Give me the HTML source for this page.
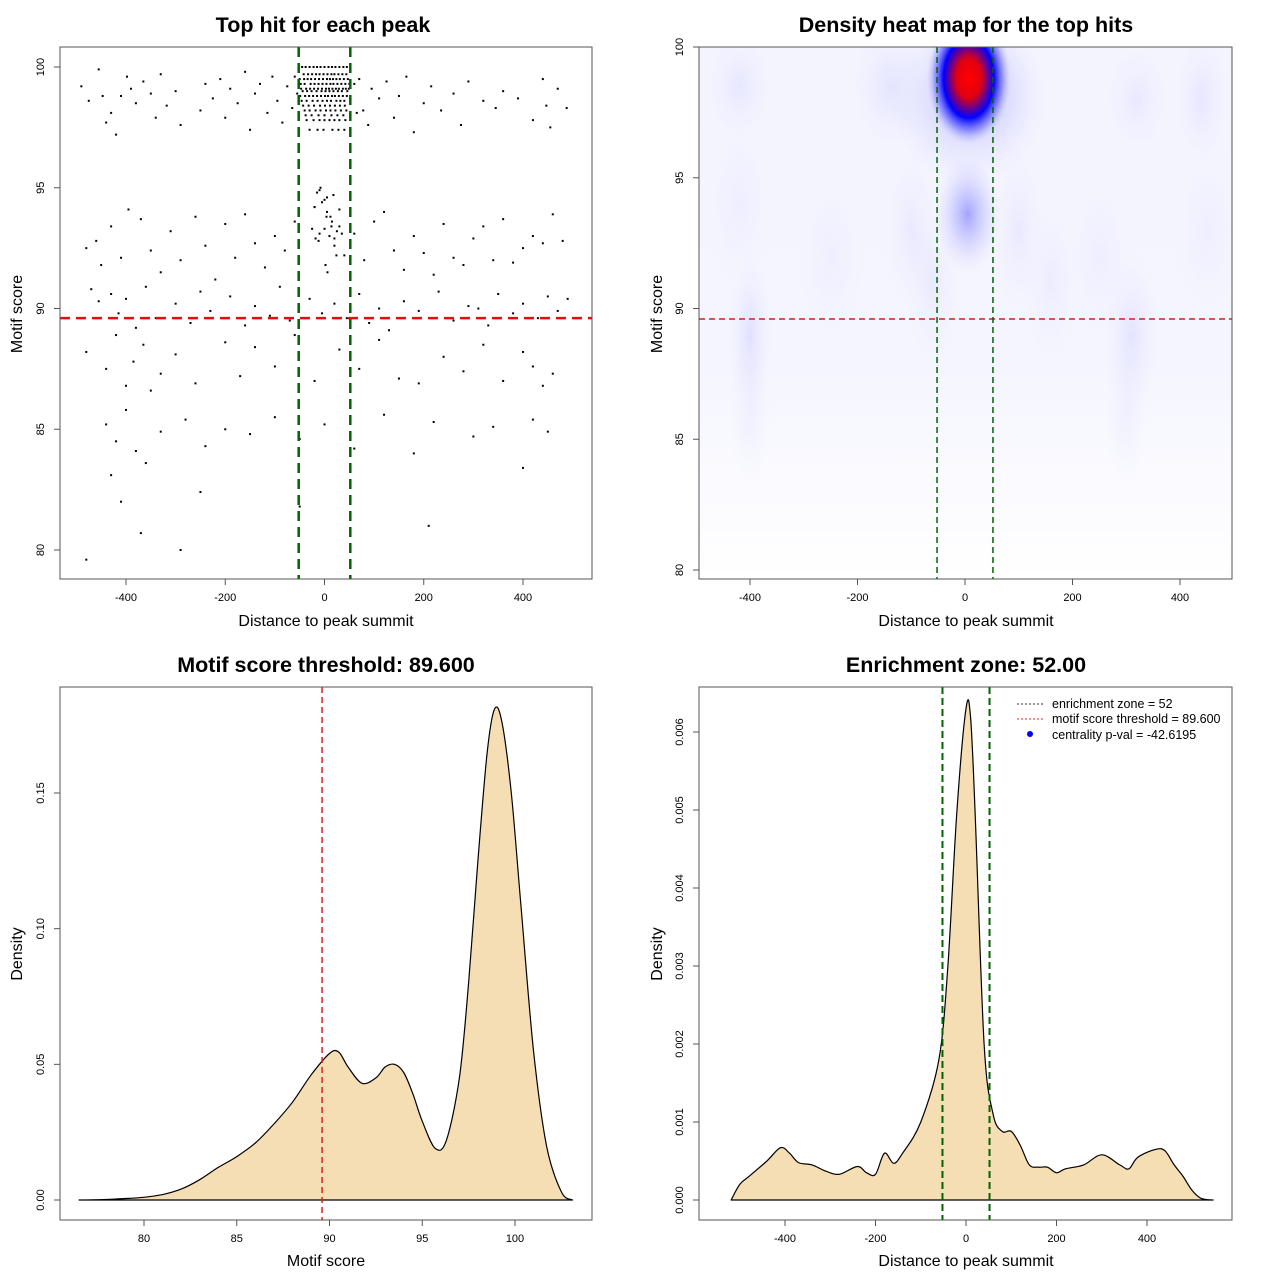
<!DOCTYPE html>
<html><head><meta charset="utf-8"><style>
html,body{margin:0;padding:0;background:#fff}
svg{display:block;font-family:"Liberation Sans",sans-serif}
</style></head><body>
<svg id="c" width="1280" height="1280" viewBox="0 0 1280 1280" xmlns="http://www.w3.org/2000/svg">
<defs>
<radialGradient id="gMain"><stop offset="0" stop-color="#ff0000"/><stop offset="0.3" stop-color="#e00010"/><stop offset="0.6" stop-color="#0000ff"/><stop offset="0.8" stop-color="#6060ff" stop-opacity="0.6"/><stop offset="1" stop-color="#c0c0ff" stop-opacity="0"/></radialGradient>
<radialGradient id="gBlue"><stop offset="0" stop-color="#8080ff" stop-opacity="1"/><stop offset="1" stop-color="#c0c0ff" stop-opacity="0"/></radialGradient>
<linearGradient id="gWash" x1="0" y1="0" x2="0" y2="1"><stop offset="0" stop-color="#f4f4ff"/><stop offset="0.6" stop-color="#f5f5ff"/><stop offset="0.85" stop-color="#fbfbff"/><stop offset="1" stop-color="#ffffff"/></linearGradient>
</defs>
</svg>
<script>
// ---------- data ----------
const scatterX = [-490,-475,-455,-447,-440,-430,-420,-410,-398,-390,-380,-365,-350,-340,-330,-318,-300,-290,-250,-240,-225,-210,-200,-190,-175,-160,-150,-140,-130,-115,-105,-95,-85,-75,-65,70,78,88,95,110,125,140,150,165,180,200,215,235,260,275,290,320,345,360,390,420,440,447,455,470,488,
 -45,-38,-30,-22,-15,-8,0,8,15,22,30,38,45,-42,-33,-25,-17,-10,-2,6,14,20,28,36,44,-48,-40,-28,-20,-12,-4,4,12,18,26,34,42,50,-44,-35,-26,-16,-6,2,10,18,27,35,46,-46,-36,-24,-14,-4,5,13,24,32,40,-40,-30,-18,-8,3,12,22,33,44,-36,-22,-10,0,10,20,30,42,-30,-14,-2,16,28,40,
 -50,-41,-34,-27,-19,-11,-3,5,11,17,24,31,39,47,-47,-37,-29,-21,-13,-5,3,9,16,23,29,37,43,49,-49,-39,-31,-23,-15,-7,1,7,15,21,29,37,45,-43,-32,-21,-9,1,11,21,31,41,-38,-26,-12,0,14,26,38,-55,-60,60,65,
 -480,-460,-450,-430,-410,-395,-370,-350,-330,-310,-290,-260,-240,-220,-200,-180,-160,-140,-120,-100,-80,-60,-20,-10,0,5,12,20,30,40,60,80,100,120,140,160,180,200,220,240,260,280,300,320,340,360,380,400,420,440,460,480,
 -15,-5,5,15,25,-10,0,10,20,-20,-8,4,14,30,-12,2,18,6,-25,35,-18,24,
 -470,-455,-430,-415,-400,-380,-360,-340,-300,-270,-250,-230,-190,-160,-140,-110,-90,-70,-30,-5,20,45,70,90,110,130,160,190,230,260,290,310,330,350,380,400,430,450,470,490,
 -480,-440,-420,-400,-385,-365,-350,-330,-300,-260,-200,-170,-140,-100,-60,-20,30,70,110,150,190,240,280,320,360,400,420,440,460,
 -440,-420,-400,-380,-360,-330,-280,-240,-200,-150,-100,-50,0,60,120,180,220,300,340,400,420,450,
 -430,-410,-370,-290,-250,-50,210,-480];
const scatterY = [99.2,98.6,99.9,98.8,97.7,98.1,97.2,98.8,99.6,99.1,98.5,99.4,98.9,97.9,99.7,98.4,99.0,97.6,98.2,99.3,98.7,99.5,97.9,99.1,98.5,99.8,97.4,98.9,99.3,98.1,99.6,98.6,97.7,99.2,98.3,99.5,98.2,97.6,99.1,98.7,99.4,97.9,98.8,99.6,97.3,98.5,99.2,98.2,98.9,97.6,99.4,98.6,98.3,99.0,98.7,97.8,99.5,98.4,97.5,99.1,98.3,
 100,100,100,100,100,100,100,100,100,100,100,100,100,99.7,99.7,99.7,99.7,99.7,99.7,99.7,99.7,99.7,99.7,99.7,99.7,99.3,99.3,99.3,99.3,99.3,99.3,99.3,99.3,99.3,99.3,99.3,99.3,99.3,99.0,99.0,99.0,99.0,99.0,99.0,99.0,99.0,99.0,99.0,99.0,98.6,98.6,98.6,98.6,98.6,98.6,98.6,98.6,98.6,98.6,98.2,98.2,98.2,98.2,98.2,98.2,98.2,98.2,98.2,97.8,97.8,97.8,97.8,97.8,97.8,97.8,97.8,97.4,97.4,97.4,97.4,97.4,97.4,
 99.5,99.5,99.5,99.5,99.5,99.5,99.5,99.5,99.5,99.5,99.5,99.5,99.5,99.5,99.1,99.1,99.1,99.1,99.1,99.1,99.1,99.1,99.1,99.1,99.1,99.1,99.1,99.1,98.8,98.8,98.8,98.8,98.8,98.8,98.8,98.8,98.8,98.8,98.8,98.8,98.8,98.4,98.4,98.4,98.4,98.4,98.4,98.4,98.4,98.4,98.0,98.0,98.0,98.0,98.0,98.0,98.0,98.9,99.6,99.3,98.1,
 92.5,92.8,91.8,93.4,92.1,94.1,93.7,92.4,91.5,93.2,92.0,93.8,92.6,91.2,93.5,92.1,93.9,92.7,91.7,93.0,92.4,93.6,94.2,93.1,93.3,94.6,93.8,92.9,93.4,92.2,93.1,92.0,93.6,94.0,92.4,91.6,93.0,92.3,91.4,93.5,92.1,91.8,92.9,93.4,92.0,93.7,91.9,92.5,93.0,92.7,93.9,92.8,
 94.8,94.4,94.0,93.6,93.2,94.9,94.5,93.0,92.6,94.2,95.0,93.8,93.4,94.1,92.8,91.8,94.7,91.5,93.3,93.1,92.9,92.2,
 90.8,90.3,90.6,89.8,90.4,89.2,90.9,89.6,90.2,89.4,90.7,89.9,90.5,89.3,90.1,89.7,90.9,89.5,90.4,89.8,90.2,89.6,90.6,89.4,90.0,89.1,90.3,89.9,90.7,89.5,90.1,90.0,89.3,90.6,89.8,90.2,89.6,90.5,89.9,90.4,
 88.2,87.5,88.9,86.8,87.8,88.5,86.6,87.3,88.1,86.9,88.6,87.2,88.4,87.6,88.9,87.0,88.3,87.5,88.7,87.1,86.9,88.0,87.4,88.5,87.0,88.2,87.6,86.8,87.3,
 85.2,84.5,85.8,84.1,83.6,84.9,85.4,84.3,85.0,84.8,85.5,84.6,85.2,84.2,85.6,84.0,85.3,84.7,85.1,83.4,85.4,84.9,
 83.1,82.0,80.7,80.0,82.4,81.8,81.0,79.6];

const densX = [76.5,78,80,81,82,83,84,85,86,87,88,89,90,90.5,91,91.75,92.5,93,93.5,94,94.5,95,95.7,96.3,97,97.5,98,98.5,98.9,99.3,99.8,100.3,101,101.7,102.5,103.1];
const densY = [0,0.0002,0.001,0.002,0.004,0.0075,0.012,0.016,0.021,0.028,0.036,0.046,0.054,0.0545,0.049,0.043,0.045,0.049,0.050,0.047,0.039,0.029,0.019,0.022,0.045,0.08,0.125,0.165,0.181,0.176,0.15,0.11,0.055,0.02,0.003,0];

const distX = [-519,-500,-480,-440,-410,-390,-370,-340,-310,-280,-240,-220,-200,-180,-160,-140,-100,-60,-40,-20,0,10,20,40,60,80,100,120,140,160,180,200,220,260,300,340,360,380,420,440,460,480,500,520,546];
const distY = [0,0.0002,0.0003,0.0005,0.00067,0.0006,0.00048,0.00045,0.00037,0.00033,0.00043,0.00035,0.00033,0.0006,0.00047,0.0006,0.001,0.0018,0.003,0.005,0.0063,0.0062,0.005,0.002,0.0011,0.00088,0.00088,0.0007,0.00045,0.00042,0.00042,0.00035,0.0004,0.00045,0.00058,0.00045,0.0004,0.00055,0.00065,0.00063,0.00045,0.0003,0.00012,0.00002,0];

// heatmap blobs: centre (dist, score), radius (dist units, score units), strength
const blobX = [-420,-400,-140,-100,-60,60,100,160,310,320,440,-420,-250,250,450,-400,300];
const blobY = [98.5,89,98.5,93,91,98.5,93,91,89,98,98,94,92,92,93,86,86];
const blobRX = [60,40,70,50,50,70,50,50,50,60,50,60,60,60,60,40,40];
const blobRY = [2,3,2.5,3,3,2.5,3,3,3,2,2.5,3,3,3,3,3,3];
const blobA = [0.12,0.18,0.14,0.1,0.1,0.12,0.1,0.08,0.15,0.1,0.12,0.06,0.06,0.06,0.06,0.07,0.07];

// ---------- helpers ----------
const svg = document.getElementById('c');
const NS = 'http://www.w3.org/2000/svg';
function mk(tag, attrs, parent){const e=document.createElementNS(NS,tag);for(const k in attrs)e.setAttribute(k,attrs[k]);(parent||svg).appendChild(e);return e;}
function txt(x,y,s,size,opts){opts=opts||{};const e=mk('text',{x:x,y:y,'font-size':size,'text-anchor':opts.anchor||'middle','font-weight':opts.bold?'bold':'normal',fill:'#000'});if(opts.rot)e.setAttribute('transform','rotate(-90 '+x+' '+y+')');e.textContent=s;return e;}
function lin(x0,x1,p0,p1){return v=>p0+(v-x0)*(p1-p0)/(x1-x0);}
function smooth(pts){let d='';for(let i=0;i<pts.length-1;i++){const p0=pts[Math.max(0,i-1)],p1=pts[i],p2=pts[i+1],p3=pts[Math.min(pts.length-1,i+2)];
 const c1=[p1[0]+(p2[0]-p0[0])/6,p1[1]+(p2[1]-p0[1])/6],c2=[p2[0]-(p3[0]-p1[0])/6,p2[1]-(p3[1]-p1[1])/6];
 d+=' C'+c1[0].toFixed(1)+','+c1[1].toFixed(1)+' '+c2[0].toFixed(1)+','+c2[1].toFixed(1)+' '+p2[0].toFixed(1)+','+p2[1].toFixed(1);}return d;}

function frame(x,y,w,h,name){const r=mk('rect',{x:x,y:y,width:w,height:h,fill:'none',stroke:'#555','stroke-width':1});

}
function xTicks(vals,sx,y,labels){vals.forEach((v,i)=>{mk('line',{x1:sx(v),x2:sx(v),y1:y,y2:y+6,stroke:'#555'});const t=txt(sx(v),y+22,labels[i],11);

});}
function yTicks(vals,sy,x,labels){vals.forEach((v,i)=>{mk('line',{x1:x,x2:x-6,y1:sy(v),y2:sy(v),stroke:'#555'});const t=txt(x-16,sy(v),labels[i],11,{rot:true});

});}

// ---------- panel 1: scatter ----------
(function(){
 const sx=lin(-400,400,126,523), sy=lin(80,100,550,67);
 const g=mk('g',{});
 
 
 for(let i=0;i<scatterX.length;i++){const p=mk('rect',{x:sx(scatterX[i])-1,y:sy(scatterY[i])-1,width:2,height:2,fill:'#000'},g);
 
 }
 mk('line',{x1:60,x2:592,y1:sy(89.6),y2:sy(89.6),stroke:'#dd1111','stroke-width':2.5,'stroke-dasharray':'10,6'});
 [-52,52].forEach(v=>mk('line',{x1:sx(v),x2:sx(v),y1:47,y2:579,stroke:'#006400','stroke-width':2.5,'stroke-dasharray':'10,6'}));
 frame(60,47,532,532,'scatter-plot-area');
 xTicks([-400,-200,0,200,400],sx,579,['-400','-200','0','200','400']);
 yTicks([80,85,90,95,100],sy,60,['80','85','90','95','100']);
 txt(323,32,'Top hit for each peak',21.5,{bold:true});
 txt(326,626,'Distance to peak summit',16);
 txt(22,314,'Motif score',16,{rot:true});
})();

// ---------- panel 2: heatmap ----------
(function(){
 const sx=lin(-400,400,750,1180), sy=lin(80,100,570,47);
 const cl=mk('clipPath',{id:'hmclip'});mk('rect',{x:699,y:47,width:533,height:532},cl);
 const g=mk('g',{'clip-path':'url(#hmclip)'});
 
 
 mk('rect',{x:699,y:47,width:533,height:532,fill:'url(#gWash)'},g);
 for(let i=0;i<blobX.length;i++){const e=mk('ellipse',{cx:sx(blobX[i]),cy:sy(blobY[i]),rx:blobRX[i]*0.5375,ry:blobRY[i]*26.15,fill:'url(#gBlue)',opacity:blobA[i]},g);
 
 }
 const b2=mk('ellipse',{cx:sx(5),cy:sy(93.6),rx:32,ry:58,fill:'url(#gBlue)',opacity:0.7},g);
 
 
 const b3=mk('ellipse',{cx:sx(5),cy:sy(98.0),rx:80,ry:85,fill:'url(#gBlue)',opacity:0.45},g);
 
 
 const b1=mk('ellipse',{cx:sx(7),cy:sy(98.8),rx:42,ry:66,fill:'url(#gMain)'},g);
 
 
 mk('line',{x1:699,x2:1232,y1:sy(89.6),y2:sy(89.6),stroke:'#cc2222','stroke-width':1.5,'stroke-dasharray':'6,4'});
 [-52,52].forEach(v=>mk('line',{x1:sx(v),x2:sx(v),y1:47,y2:579,stroke:'#006400','stroke-width':1.5,'stroke-dasharray':'6,4'}));
 frame(699,47,533,532,'heatmap-plot-area');
 xTicks([-400,-200,0,200,400],sx,579,['-400','-200','0','200','400']);
 yTicks([80,85,90,95,100],sy,699,['80','85','90','95','100']);
 txt(966,32,'Density heat map for the top hits',21.5,{bold:true});
 txt(966,626,'Distance to peak summit',16);
 txt(662,314,'Motif score',16,{rot:true});
})();

// ---------- panel 3: score density ----------
(function(){
 const sx=lin(80,100,144,515), sy=lin(0,0.15,1200,793);
 const pts=densX.map((v,i)=>[sx(v),sy(densY[i])]);
 const d='M'+pts[0][0]+','+pts[0][1]+smooth(pts)+' Z';
 const p=mk('path',{d:d,fill:'#f5deb3',stroke:'#000','stroke-width':1.2,'stroke-linejoin':'round'});
 
 
 mk('line',{x1:sx(89.6),x2:sx(89.6),y1:687,y2:1220,stroke:'#dd2222','stroke-width':1.5,'stroke-dasharray':'6,4'});
 frame(60,687,532,533,'score-density-plot-area');
 xTicks([80,85,90,95,100],sx,1220,['80','85','90','95','100']);
 yTicks([0,0.05,0.1,0.15],sy,60,['0.00','0.05','0.10','0.15']);
 txt(326,672,'Motif score threshold: 89.600',21.5,{bold:true});
 txt(326,1266,'Motif score',16);
 txt(22,954,'Density',16,{rot:true});
})();

// ---------- panel 4: distance density ----------
(function(){
 const sx=lin(-400,400,785,1147), sy=lin(0,0.006,1200,732);
 const pts=distX.map((v,i)=>[sx(v),sy(distY[i])]);
 const d='M'+pts[0][0]+','+pts[0][1]+smooth(pts)+' Z';
 const p=mk('path',{d:d,fill:'#f5deb3',stroke:'#000','stroke-width':1.2,'stroke-linejoin':'round'});
 
 
 [-52,52].forEach(v=>mk('line',{x1:sx(v),x2:sx(v),y1:687,y2:1220,stroke:'#006400','stroke-width':2,'stroke-dasharray':'7,4'}));
 frame(699,687,533,533,'distance-density-plot-area');
 xTicks([-400,-200,0,200,400],sx,1220,['-400','-200','0','200','400']);
 yTicks([0,0.001,0.002,0.003,0.004,0.005,0.006],sy,699,['0.000','0.001','0.002','0.003','0.004','0.005','0.006']);
 txt(966,672,'Enrichment zone: 52.00',21.5,{bold:true});
 txt(966,1266,'Distance to peak summit',16);
 txt(662,954,'Density',16,{rot:true});
 const lg=mk('g',{});
 
 
 mk('line',{x1:1017,x2:1043,y1:704,y2:704,stroke:'#333','stroke-dasharray':'2,2'},lg);
 mk('line',{x1:1017,x2:1043,y1:719,y2:719,stroke:'#ff2222','stroke-dasharray':'2,2'},lg);
 mk('circle',{cx:1030,cy:734,r:3,fill:'#0000ff'},lg);
 const l1=mk('text',{x:1052,y:708,'font-size':12.5},lg);l1.textContent='enrichment zone = 52';
 
 const l2=mk('text',{x:1052,y:723,'font-size':12.5},lg);l2.textContent='motif score threshold = 89.600';
 
 const l3=mk('text',{x:1052,y:739,'font-size':12.5},lg);l3.textContent='centrality p-val = -42.6195';
 
})();
</script>
</body></html>
